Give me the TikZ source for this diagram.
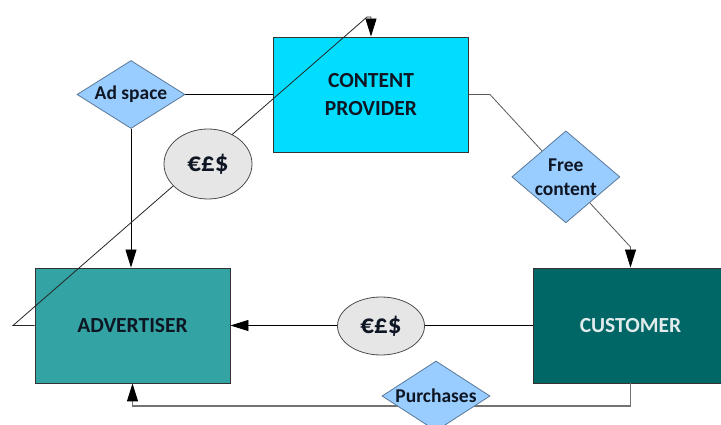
\documentclass[tikz,border=0pt]{standalone}
\usepackage{fontspec}
\setmainfont{Carlito}
\usetikzlibrary{shapes.geometric,arrows.meta,calc}

\definecolor{cpfill}{RGB}{0,221,255}
\definecolor{advfill}{RGB}{51,163,163}
\definecolor{custfill}{RGB}{0,102,102}
\definecolor{diafill}{RGB}{153,204,255}
\definecolor{diaedge}{RGB}{90,120,150}
\definecolor{ellfill}{RGB}{230,230,230}
\definecolor{textdark}{RGB}{15,22,35}
\definecolor{custtext}{RGB}{225,235,235}

\pgfdeclarelayer{boxes}
\pgfdeclarelayer{tags}
\pgfsetlayers{boxes,main,tags}

\tikzset{
  actor/.style={rectangle, draw=black!80, line width=0.9pt, minimum width=195pt,
    minimum height=115pt, inner sep=0pt, align=center,
    font=\fontsize{21.5}{28}\selectfont\bfseries, text=textdark},
  flowtag/.style={diamond, fill=diafill, draw=diaedge, line width=0.8pt,
    inner sep=0pt, minimum width=108pt, minimum height=70pt},
  tagtext/.style={font=\fontsize{19.5}{24}\selectfont\bfseries, text=textdark, align=center},
  money/.style={ellipse, fill=ellfill, draw=black!70, line width=0.8pt,
    inner sep=0pt, minimum width=88pt, minimum height=70pt,
    font=\fontsize{27}{30}\selectfont\bfseries, text=textdark},
  link/.style={line width=0.9pt, draw=black},
  greylink/.style={line width=0.8pt, draw=black!65},
  tip/.style={-{Triangle[length=18pt,width=11pt,black]}}
}

\begin{document}
\begin{tikzpicture}[x=1pt,y=-1pt]
\useasboundingbox (0,0) rectangle (721,425);

% the three parties
\begin{pgfonlayer}{boxes}
  \node[actor, fill=cpfill] (cp) at (371,94.5) {CONTENT\\PROVIDER};
  \node[actor, fill=advfill] (adv) at (132.5,325.5) {ADVERTISER};
  \node[actor, fill=custfill, text=custtext] (cust) at (630.5,325.5) {CUSTOMER};
\end{pgfonlayer}

% flow labels and payments
\begin{pgfonlayer}{tags}
  \node[flowtag, minimum height=68pt] (ad) at (131,94.5) {};
  \node[tagtext] at (ad) {Ad space};
  \coordinate (fc1) at (490,94.5);
  \coordinate (fc2) at (630.5,247);
  \node[flowtag, minimum height=92pt] (fc) at ($(fc1)!0.54!(fc2)$) {};
  \node[tagtext] at (fc) {Free\\content};
  \node[flowtag] (pur) at (436,396) {};
  \node[tagtext] at (pur) {Purchases};
  \node[money] (m1) at (208,164) {€£\$};
  \node[money, minimum width=87pt, minimum height=58pt] (m2) at (381,326) {€£\$};
\end{pgfonlayer}

% connectors
\coordinate (d1) at (13,325.5);
\coordinate (d2) at (367,17);
\coordinate (pb) at (0,406);

\draw[link] (ad) -- (cp.west);
\draw[link, tip] (ad) -- (ad |- adv.north);
\draw[link, tip] (cust.west) -- (adv.east);
\draw[greylink, tip] (cp.east) -- (fc1) -- (fc2) -- (cust.north);
\draw[line width=1.2pt, draw=black!55, tip]
  (cust.south) -- (cust.south |- pb) -- (adv.south |- pb) -- (adv.south);
\draw[line width=0.8pt, draw=black!85, tip]
  (adv.west) -- (d1) -- (d2) -- (d2 -| cp.north) -- (cp.north);
\end{tikzpicture}
\end{document}
